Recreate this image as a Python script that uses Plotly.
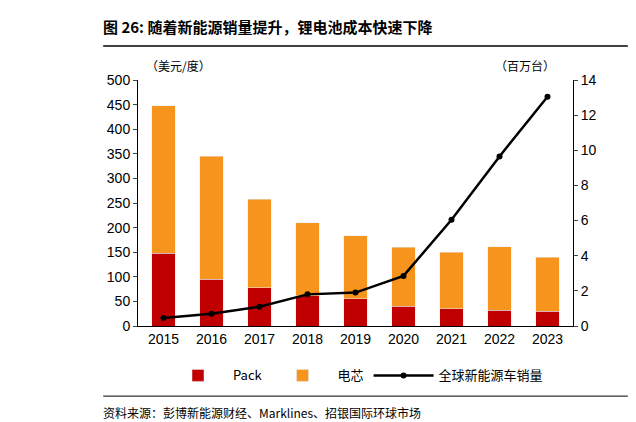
import plotly.graph_objects as go

years = ["2015","2016","2017","2018","2019","2020","2021","2022","2023"]
pack = [148, 95, 78, 61, 55, 40, 35, 32, 30]
cell = [300, 250, 180, 149, 128, 120, 115, 129, 110]
sales = [0.45, 0.7, 1.1, 1.8, 1.9, 2.85, 6.05, 9.65, 13.05]

F = "Noto Sans CJK SC"
fig = go.Figure()
fig.add_bar(x=years, y=pack, name="Pack", marker_color="#C00000", width=0.48)
fig.add_bar(x=years, y=cell, name="电芯", marker_color="#F7941D", width=0.48)
fig.add_scatter(x=years, y=sales, name="全球新能源车销量", yaxis="y2", mode="lines+markers",
                line=dict(color="black", width=2.5), marker=dict(size=6, color="black"))
fig.update_layout(
    width=636, height=422, barmode="stack", plot_bgcolor="white", paper_bgcolor="white",
    margin=dict(l=130, r=71, t=72, b=104),
    font=dict(family=F, size=13, color="black"),
    xaxis=dict(showline=True, linecolor="black", ticks="", tickfont=dict(family="Liberation Sans", size=14)),
    yaxis=dict(range=[0, 500], dtick=50, showline=True, linecolor="black", ticks="outside", ticklen=4,
               showgrid=False, tickfont=dict(family="Liberation Sans", size=14)),
    yaxis2=dict(range=[0, 14], dtick=2, overlaying="y", side="right", showline=True, linecolor="black",
                ticks="outside", ticklen=4, showgrid=False, tickfont=dict(family="Liberation Sans", size=14)),
    legend=dict(orientation="h", x=0.5, xanchor="center", y=-0.14, yanchor="top",
                font=dict(family=F, size=13), traceorder="normal", itemwidth=60),
    annotations=[
        dict(text="<b>图 26: 随着新能源销量提升，锂电池成本快速下降</b>", x=0.0, y=1.0, xref="paper", yref="paper",
             xanchor="left", yanchor="top", showarrow=False, font=dict(family=F, size=15), xshift=-37, yshift=66),
        dict(text="（美元/度）", x=0.0, y=1.0, xref="paper", yref="paper", xanchor="center", yanchor="bottom",
             showarrow=False, font=dict(family=F, size=12), yshift=4, xshift=40),
        dict(text="（百万台）", x=1.0, y=1.0, xref="paper", yref="paper", xanchor="center", yanchor="bottom",
             showarrow=False, font=dict(family=F, size=12), yshift=4, xshift=-48),
        dict(text="资料来源：彭博新能源财经、Marklines、招银国际环球市场", x=0.0, y=0.0, xref="paper", yref="paper",
             xanchor="left", yanchor="top", showarrow=False, font=dict(family=F, size=12), xshift=-37, yshift=-76),
    ],
    shapes=[
        dict(type="line", xref="paper", yref="paper", x0=-0.08, x1=1.126, y0=1.138, y1=1.138, line=dict(color="black", width=1.5)),
        dict(type="line", xref="paper", yref="paper", x0=-0.08, x1=1.126, y0=-0.285, y1=-0.285, line=dict(color="black", width=1)),
    ],
)
fig.write_html("out.html")
